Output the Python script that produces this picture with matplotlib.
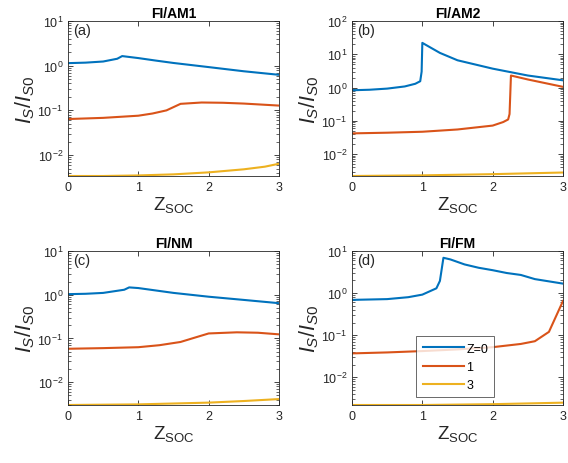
import matplotlib
matplotlib.use("Agg")
import matplotlib.pyplot as plt
from matplotlib.ticker import LogLocator, NullFormatter

plt.rcParams['font.family'] = ['Liberation Sans', 'DejaVu Sans']
plt.rcParams['mathtext.fontset'] = 'custom'
plt.rcParams['mathtext.rm'] = 'Liberation Sans'
plt.rcParams['mathtext.it'] = 'Liberation Sans:italic'
plt.rcParams['mathtext.bf'] = 'Liberation Sans:bold'

colors = ['#0072BD', '#D95319', '#EDB120']
legend_labels = ['Z=0', '1', '3']
titles = ['FI/AM1', 'FI/AM2', 'FI/NM', 'FI/FM']
panel_tags = ['(a)', '(b)', '(c)', '(d)']

# Panel (a) FI/AM1
a_x0 = [0, 0.25, 0.5, 0.7, 0.77, 1.0, 1.25, 1.5, 2.0, 2.5, 3.0]
a_y0 = [1.14, 1.17, 1.24, 1.43, 1.64, 1.48, 1.3, 1.15, 0.93, 0.75, 0.625]
a_x1 = [0, 0.5, 1.0, 1.2, 1.4, 1.6, 1.9, 2.2, 2.5, 3.0]
a_y1 = [0.064, 0.068, 0.076, 0.085, 0.100, 0.140, 0.150, 0.148, 0.142, 0.128]
a_x3 = [0, 0.5, 1.0, 1.5, 2.0, 2.5, 2.8, 3.0]
a_y3 = [0.0034, 0.0034, 0.0035, 0.0037, 0.0041, 0.0048, 0.0055, 0.0064]

# Panel (b) FI/AM2
b_x0 = [0, 0.25, 0.5, 0.75, 0.9, 0.97, 0.99, 1.0, 1.25, 1.5, 2.0, 2.5, 3.0]
b_y0 = [0.83, 0.86, 0.93, 1.08, 1.3, 1.55, 3.0, 22.0, 11.0, 6.6, 3.7, 2.3, 1.65]
b_x1 = [0, 0.5, 1.0, 1.5, 2.0, 2.15, 2.22, 2.24, 2.25, 2.26, 2.5, 3.0]
b_y1 = [0.042, 0.044, 0.047, 0.055, 0.072, 0.092, 0.11, 0.16, 0.6, 2.3, 1.75, 1.05]
b_x3 = [0, 1.0, 2.0, 3.0]
b_y3 = [0.0022, 0.0023, 0.0025, 0.0028]

# Panel (c) FI/NM
c_x0 = [0, 0.25, 0.5, 0.8, 0.87, 1.0, 1.5, 2.0, 2.5, 3.0]
c_y0 = [1.03, 1.05, 1.1, 1.3, 1.47, 1.42, 1.1, 0.9, 0.76, 0.64]
c_x1 = [0, 0.5, 1.0, 1.3, 1.6, 1.8, 2.0, 2.4, 2.7, 3.0]
c_y1 = [0.058, 0.060, 0.063, 0.070, 0.083, 0.104, 0.130, 0.138, 0.135, 0.124]
c_x3 = [0, 1.0, 2.0, 2.5, 3.0]
c_y3 = [0.0030, 0.0031, 0.0034, 0.0037, 0.0041]

# Panel (d) FI/FM
d_x0 = [0, 0.5, 0.8, 1.0, 1.2, 1.25, 1.3, 1.4, 1.6, 1.8, 2.0, 2.2, 2.4, 2.6, 2.8, 3.0]
d_y0 = [0.69, 0.72, 0.80, 0.92, 1.3, 1.95, 6.9, 6.3, 4.8, 4.0, 3.5, 3.0, 2.7, 2.15, 1.9, 1.68]
d_x1 = [0, 0.5, 1.0, 1.5, 2.0, 2.4, 2.6, 2.8, 3.0]
d_y1 = [0.037, 0.039, 0.042, 0.046, 0.052, 0.062, 0.072, 0.12, 0.65]
d_x3 = [0, 1.0, 2.0, 3.0]
d_y3 = [0.0022, 0.0022, 0.0023, 0.0025]

panels = [
    [(a_x0, a_y0), (a_x1, a_y1), (a_x3, a_y3)],
    [(b_x0, b_y0), (b_x1, b_y1), (b_x3, b_y3)],
    [(c_x0, c_y0), (c_x1, c_y1), (c_x3, c_y3)],
    [(d_x0, d_y0), (d_x1, d_y1), (d_x3, d_y3)],
]
ytops = [10, 100, 10, 10]

W, H = 568, 464
fig = plt.figure(figsize=(W / 100, H / 100), dpi=100)
rects_px = [(68, 22, 279, 177), (352, 22, 563, 177), (68, 252, 279, 406), (352, 252, 563, 406)]

for i, (l, t, r, b) in enumerate(rects_px):
    ax = fig.add_axes([l / W, 1 - b / H, (r - l) / W, (b - t) / H])
    for (xs, ys), c, lab in zip(panels[i], colors, legend_labels):
        ax.plot(xs, ys, color=c, lw=1.5, label=lab)
    ax.set_yscale('log')
    ymin = min(panels[i][2][1])
    ax.set_ylim(ymin, ytops[i])
    ax.set_xlim(0, 3)
    ax.set_xticks([0, 1, 2, 3])
    ax.yaxis.set_major_locator(LogLocator(base=10, numticks=10))
    ax.yaxis.set_minor_locator(LogLocator(base=10, subs=range(2, 10), numticks=20))
    ax.yaxis.set_minor_formatter(NullFormatter())
    ax.tick_params(which='both', direction='in', top=True, right=True, colors='#262626',
                   labelsize=9, labelcolor='#262626')
    ax.tick_params(which='major', length=3.5, width=0.6)
    ax.tick_params(which='minor', length=2, width=0.5)
    for s in ax.spines.values():
        s.set_color('#262626')
        s.set_linewidth(0.6)
    ax.set_title(titles[i], fontsize=10, fontweight='bold', pad=3)
    ax.text(0.025, 0.985, panel_tags[i], transform=ax.transAxes, fontsize=10.5,
            va='top', ha='left', color='#262626')
    ax.set_ylabel(r'$I_S/I_{S0}$', fontsize=15.5, labelpad=0, color='#262626')
    ax.set_xlabel(r'$\mathregular{Z_{SOC}}$', fontsize=13.5, labelpad=1, color='#262626')
    if i == 3:
        leg = ax.legend(loc='upper left', bbox_to_anchor=(0.305, 0.445), fontsize=9,
                        frameon=True, fancybox=False, edgecolor='#262626',
                        handlelength=3.3, borderpad=0.5, labelspacing=0.5,
                        handletextpad=0.2, borderaxespad=0)
        leg.get_frame().set_linewidth(0.6)

fig.savefig('out.png', dpi=100)
